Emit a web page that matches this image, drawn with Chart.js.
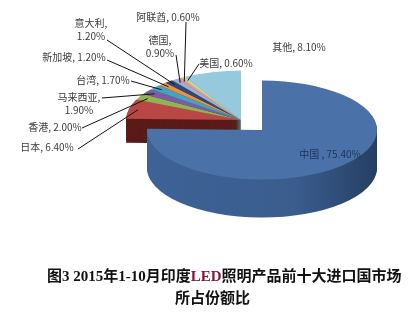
<!DOCTYPE html>
<html lang="zh">
<head>
<meta charset="UTF-8">
<title>2015年1-10月印度LED照明产品前十大进口国市场所占份额比</title>
<script src="https://cdn.jsdelivr.net/npm/chart.js"></script>
<style>
    body {
        margin: 0;
        background: #fff;
    }
    .wrap {
        position: relative;
        width: 412px;
        height: 312px;
    }
    #shareChart {
        position: absolute;
        left: 0;
        top: 0;
    }
    .caption {
        position: absolute;
        font-family: "Liberation Serif", "Noto Sans CJK SC", serif;
        font-weight: bold;
        font-size: 15px;
        line-height: 1;
        color: #111;
        white-space: nowrap;
    }
    .caption .led { color: #8a1538; }
</style>
</head>
<body>
<div class="wrap">
    <canvas id="shareChart" width="412" height="312"></canvas>
    <div class="caption" style="left:47px; top:269px;">图3 2015年1-10月印度<span class="led">LED</span>照明产品前十大进口国市场</div>
    <div class="caption" style="left:175px; top:291px;">所占份额比</div>
</div>

<script>
    // données
    const markets = ['中国', '日本', '香港', '马来西亚', '台湾', '新加坡', '意大利', '德国', '阿联酋', '美国', '其他'];
    const shares = [75.4, 6.4, 2.0, 1.9, 1.7, 1.2, 1.2, 0.9, 0.6, 0.6, 8.1];

    const topColors = ['#4a72a8', '#b94745', '#93b352', '#7a5ea0', '#43a3c2', '#ef8f3f', '#2d4c75', '#9fb0d4', '#dc9a98', '#c8d89c', '#95c9db'];
    const sideColors = [null, '#5a1b18', '#5f7530', '#4d3b62', '#276a7c', '#5a2a08', '#1c3150', '#6a7896', '#9a6462', '#8a9a66', '#5e8f9e'];

    // label placement (centre x, first line y, leader start)
    const labelPos = [
        {x: 330, y: 154},
        {x: 47, y: 147, lx: 78, ly: 149},
        {x: 55, y: 127, lx: 82, ly: 128},
        {x: 79, y: 97, lx: 102, ly: 98, wrap: true},
        {x: 103, y: 80, lx: 131, ly: 81},
        {x: 74, y: 57, lx: 107, ly: 60},
        {x: 91, y: 23, lx: 107, ly: 40, wrap: true},
        {x: 160, y: 40, lx: 176, ly: 55, wrap: true},
        {x: 168, y: 17, lx: 186, ly: 22},
        {x: 226, y: 63, lx: 199, ly: 64},
        {x: 299, y: 47}
    ];

    const TILT = 0.43;
    const depth = markets.map((m, i) => i === 0 ? 38 : 24);
    const explode = markets.map((m, i) => i === 0 ? {x: 21, y: 10} : {x: 0, y: 0});

    function drawWith(ctx, arc, color) {
        const o = arc.options;
        arc.options = Object.assign({}, o, {backgroundColor: color, borderWidth: 0});
        arc.draw(ctx);
        arc.options = o;
    }

    const pie3d = {
        id: 'pie3d',
        beforeDatasetsDraw(chart) {
            const ctx = chart.ctx;
            const arcs = chart.getDatasetMeta(0).data;
            const cy = arcs[0].y;
            const r = chart.currentDevicePixelRatio;
            const place = (i, d) => ctx.setTransform(r, 0, 0, r * TILT, r * explode[i].x, r * ((1 - TILT) * cy + explode[i].y + d));

            const chinaSide = ctx.createLinearGradient(130, 0, 390, 0);
            chinaSide.addColorStop(0, '#3e6295');
            chinaSide.addColorStop(0.55, '#3a5d8e');
            chinaSide.addColorStop(1, '#1d3352');

            ctx.save();
            const maxDepth = Math.max(...depth);
            for (let d = maxDepth; d >= 1; d--) {
                arcs.forEach((arc, i) => {
                    if (d > depth[i]) return;
                    place(i, d);
                    drawWith(ctx, arc, i === 0 ? chinaSide : sideColors[i]);
                });
            }
            arcs.forEach((arc, i) => {
                place(i, 0);
                arc.draw(ctx);
            });
            ctx.restore();
            return false;
        },
        afterDraw(chart) {
            const ctx = chart.ctx;
            const arcs = chart.getDatasetMeta(0).data;
            ctx.save();
            ctx.font = '10px "Noto Sans CJK SC", sans-serif';
            ctx.textAlign = 'center';
            ctx.textBaseline = 'middle';
            ctx.strokeStyle = '#111';
            ctx.lineWidth = 1;
            arcs.forEach((arc, i) => {
                const p = labelPos[i];
                const pct = shares[i].toFixed(2) + '%';
                const lines = p.wrap ? [markets[i] + ',', pct] : [markets[i] + (i === 0 ? ' , ' : ', ') + pct];
                ctx.fillStyle = i === 0 ? '#1c3459' : '#3a3a3a';
                lines.forEach((t, k) => ctx.fillText(t, p.x, p.y + k * 13));
                if (p.lx !== undefined) {
                    const mid = (arc.startAngle + arc.endAngle) / 2;
                    const rr = arc.outerRadius * 0.92;
                    const ex = arc.x + explode[i].x + Math.cos(mid) * rr;
                    const ey = arc.y + explode[i].y + TILT * Math.sin(mid) * rr;
                    ctx.beginPath();
                    ctx.moveTo(p.lx, p.ly);
                    ctx.lineTo(ex, ey);
                    ctx.stroke();
                }
            });
            ctx.restore();
        }
    };

    const ctx = document.getElementById('shareChart').getContext('2d');
    new Chart(ctx, {
        type: 'pie',
        data: {
            labels: markets,
            datasets: [{
                data: shares,
                backgroundColor: topColors,
                borderWidth: 0
            }]
        },
        options: {
            responsive: false,
            animation: false,
            radius: 115,
            layout: {
                padding: {left: 70, right: 0, top: 0, bottom: 72}
            },
            plugins: {
                legend: {display: false},
                tooltip: {enabled: false}
            }
        },
        plugins: [pie3d]
    });
</script>
</body>
</html>
